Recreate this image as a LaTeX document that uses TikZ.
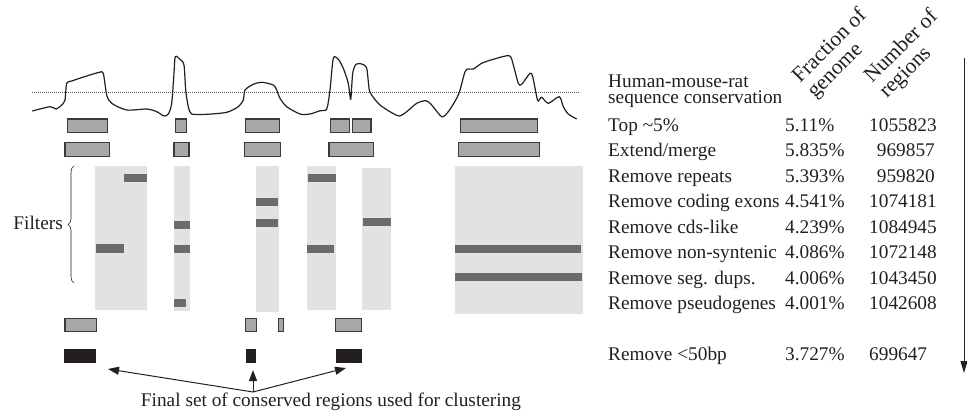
\documentclass[tikz,border=0pt]{standalone}
\usepackage{fontspec}
\setmainfont{Liberation Serif}
\usetikzlibrary{arrows.meta,decorations.pathreplacing}
\definecolor{boxg}{HTML}{A7A8AA}
\definecolor{edgeg}{HTML}{3A3A3C}
\definecolor{colg}{HTML}{E1E2E4}
\definecolor{barg}{HTML}{6A6B6D}
\definecolor{blkc}{HTML}{231F20}
\definecolor{txtc}{HTML}{231F20}
\begin{document}
\begin{tikzpicture}[x=1pt,y=-1pt,
  rbox/.style={fill=boxg,draw=edgeg,line width=1.1pt},
  colband/.style={fill=colg},
  darkbar/.style={fill=barg},
  blkbox/.style={fill=blkc},
  lab/.style={anchor=base west,inner sep=0pt,text=txtc,font=\fontsize{19.3}{22}\selectfont},
  labr/.style={anchor=base east,inner sep=0pt,text=txtc,font=\fontsize{19.3}{22}\selectfont},
  rotlab/.style={anchor=base west,inner sep=0pt,rotate=45,text=txtc,font=\fontsize{21.5}{24}\selectfont},
  arr/.style={line width=1pt,draw=txtc,-{Triangle[length=11pt,width=8pt]}}]
\useasboundingbox (0,0) rectangle (967,413);

% conservation curve and threshold
\draw[line width=0.9pt,draw=black!65,dash pattern=on 1pt off 1pt] (32,92) -- (580,92);
\draw[line width=1.2pt,draw=txtc,smooth,tension=0.45] plot coordinates {
(32.3,111) (50,106.7) (56,109) (61.7,105) (65,100) (66.7,83.3) (71.7,81) (86.7,76) (99.3,72.3) (103.3,73.3) (106.7,95) (111.7,103.3) (126.7,110) (146.7,109) (156.7,111.7) (164,116) (168.3,114) (171.7,103.3) (174,73) (175.3,56.7) (180,59.3) (184,65) (185.7,90) (188.3,106.7) (191.7,114) (206.7,114.3) (226.7,112.3) (238.3,106.7) (243.3,100) (245,90) (253.3,84.3) (261.7,82.3) (273.3,85) (276.7,90) (280,98.3) (286.7,106.7) (300,114) (310,114) (320,110.7) (326.7,109) (330,90) (333.3,58.3) (338.3,59.3) (343.3,68.3) (348.3,83.3) (350.7,99.3) (352.7,73.3) (356,64.3) (361.7,64) (366.7,68.3) (369.3,90) (373.3,97.3) (380,105) (390,111.7) (399.3,116) (406.7,111.7) (416.7,103.3) (426,100.7) (431.7,105) (441.7,116.7) (448.3,111.7) (456.7,98.3) (460,90) (465,71.7) (468.3,69) (473.3,69) (481.7,63.3) (493.3,59.3) (509.3,55.7) (513.3,65) (518.3,83.3) (521.7,84.3) (530,73.3) (532.7,76.7) (536.7,96.7) (538.3,101) (541.7,97.3) (548.3,103.3) (559.3,96.7) (563.3,106.7) (568.3,114) (576.7,119)};

% row 1: top 5%
\path[rbox] (67.3,119) rectangle (107.3,132.3);
\path[rbox] (175.3,119) rectangle (186.7,132.3);
\path[rbox] (245.7,119) rectangle (279.3,132.3);
\path[rbox] (330.7,119) rectangle (349.3,132.3);
\path[rbox] (352.7,119) rectangle (371,132.3);
\path[rbox] (460.7,119) rectangle (537.7,132.3);
% row 2: extend/merge
\path[rbox] (65,142.7) rectangle (109.3,156.7);
\path[rbox] (174,142.7) rectangle (189,156.7);
\path[rbox] (244.3,142.7) rectangle (280.7,156.7);
\path[rbox] (329,142.7) rectangle (373.3,156.7);
\path[rbox] (458.7,142.7) rectangle (539.3,156.7);

% filter columns
\path[colband] (95,166) rectangle (147,310);
\path[colband] (174,166) rectangle (190,310.7);
\path[colband] (256,166) rectangle (279,311.7);
\path[colband] (307.3,166) rectangle (336,310);
\path[colband] (362,168) rectangle (391,310);
\path[colband] (455,166) rectangle (583,314);
% filter hits
\path[darkbar] (123.7,174) rectangle (147,182.3);
\path[darkbar] (96,244.3) rectangle (124.3,252.7);
\path[darkbar] (174.3,220.7) rectangle (190.3,228.7);
\path[darkbar] (174.3,244.7) rectangle (190.3,252.7);
\path[darkbar] (174.3,298.7) rectangle (185.7,306.7);
\path[darkbar] (255.7,197.7) rectangle (278.3,205.7);
\path[darkbar] (255.7,218.7) rectangle (278.3,226.7);
\path[darkbar] (307.7,174.3) rectangle (336,182.3);
\path[darkbar] (307.3,244.7) rectangle (334.3,252.7);
\path[darkbar] (362.7,218) rectangle (391.3,226);
\path[darkbar] (454.7,244.7) rectangle (580.7,252.7);
\path[darkbar] (455.3,272.7) rectangle (582,281);

% brace and label
\draw[line width=0.6pt,draw=txtc,decorate,decoration={brace,amplitude=6pt}] (74,283) -- (74,166);
\node[labr] (filt) at (63,229) {Filters};

% after filters
\path[rbox] (65,318.7) rectangle (96.7,331.7);
\path[rbox] (245.7,318.7) rectangle (256.7,331.7);
\path[rbox] (278.3,318.7) rectangle (283.7,331.7);
\path[rbox] (335.3,318.7) rectangle (361.7,331.7);
% final regions
\path[blkbox] (64.3,349.3) rectangle (96,363.3);
\path[blkbox] (245.7,349.3) rectangle (256.3,363.3);
\path[blkbox] (335.7,349.3) rectangle (362.3,363.3);

% pointers
\coordinate (conv) at (253,392);
\coordinate (tipl) at (108,369);
\coordinate (tipm) at (253,370);
\coordinate (tipr) at (346,368);
\draw[arr] (conv) -- (tipl);
\draw[arr] (conv) -- (tipm);
\draw[arr] (conv) -- (tipr);
\node[anchor=base,inner sep=0pt,text=txtc,font=\fontsize{19.3}{22}\selectfont] (final) at (331,406) {Final set of conserved regions used for clustering};

% table
\node[lab] (h1) at (608,87) {Human-mouse-rat};
\node[lab] (h2) at (608,103) {sequence conservation};
\node[rotlab] (fr1) at (800,84) {Fraction of};
\node[rotlab] (fr2) at (815,99) {genome};
\node[rotlab] (nr1) at (872,84) {Number of};
\node[rotlab] (nr2) at (887,99) {regions};

\node[lab] (r1) at (608,131) {Top \textasciitilde5\%};
\node[lab] (p1) at (785,131) {5.11\%};
\node[lab] (n1) at (869,131) {1055823};
\node[lab] (r2) at (608,156.5) {Extend/merge};
\node[lab] (p2) at (785,156.5) {5.835\%};
\node[labr] (n2) at (935,156.5) {969857};
\node[lab] (r3) at (608,182) {Remove repeats};
\node[lab] (p3) at (785,182) {5.393\%};
\node[labr] (n3) at (935,182) {959820};
\node[lab] (r4) at (608,207.5) {Remove coding exons};
\node[lab] (p4) at (785,207.5) {4.541\%};
\node[lab] (n4) at (869,207.5) {1074181};
\node[lab] (r5) at (608,233) {Remove cds-like};
\node[lab] (p5) at (785,233) {4.239\%};
\node[lab] (n5) at (869,233) {1084945};
\node[lab] (r6) at (608,258.5) {Remove non-syntenic};
\node[lab] (p6) at (785,258.5) {4.086\%};
\node[lab] (n6) at (869,258.5) {1072148};
\node[lab] (r7) at (608,284) {Remove seg. dups.};
\node[lab] (p7) at (785,284) {4.006\%};
\node[lab] (n7) at (869,284) {1043450};
\node[lab] (r8) at (608,309.5) {Remove pseudogenes};
\node[lab] (p8) at (785,309.5) {4.001\%};
\node[lab] (n8) at (869,309.5) {1042608};
\node[lab] (r9) at (608,360) {Remove <50bp};
\node[lab] (p9) at (785,360) {3.727\%};
\node[lab] (n9) at (869,360) {699647};

% progression arrow
\coordinate (pa) at (964,58);
\coordinate (pb) at (964,373);
\draw[line width=1pt,draw=txtc,-{Triangle[length=12pt,width=7pt]}] (pa) -- (pb);
\end{tikzpicture}
\end{document}
